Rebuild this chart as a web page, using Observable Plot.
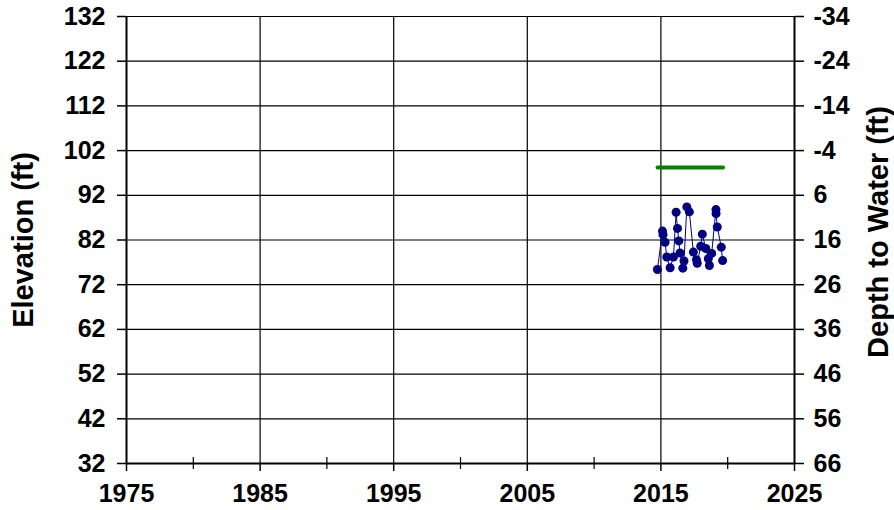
<!DOCTYPE html>
<html>
<head>
<meta charset="utf-8">
<script src="https://cdn.jsdelivr.net/npm/d3@7"></script>
<script src="https://cdn.jsdelivr.net/npm/@observablehq/plot@0.6"></script>
<style>
  html, body { margin: 0; padding: 0; background: white; }
  #chart { width: 894px; height: 510px; }
</style>
</head>
<body>
<div id="chart"></div>
<script>
// ---- data ----
const levelYears = [2014.74, 2015.12, 2015.16, 2015.31, 2015.44, 2015.69, 2015.94, 2016.14, 2016.24, 2016.34,
  2016.43, 2016.64, 2016.73, 2016.94, 2017.13, 2017.43, 2017.66, 2017.72, 2017.98, 2018.10,
  2018.36, 2018.55, 2018.63, 2018.80, 2019.12, 2019.13, 2019.22, 2019.52, 2019.62];
const levelElev = [75.4, 84.0, 83.2, 81.5, 78.2, 75.8, 78.2, 88.2, 84.6, 81.8,
  79.1, 75.7, 77.3, 89.4, 88.3, 79.3, 77.6, 76.8, 80.6, 83.3,
  80.1, 77.8, 76.3, 79.0, 88.8, 87.9, 84.9, 80.4, 77.4];
const groundYears = [2014.75, 2019.65];
const groundElev = [98.2, 98.2];
const groundSurface = 98;          // depth = groundSurface - elevation
const yDomain = [32, 132];
const xDomain = [1975, 2025];
const yTicks = [32, 42, 52, 62, 72, 82, 92, 102, 112, 122, 132];
const xTicks = [1975, 1985, 1995, 2005, 2015, 2025];
const xMinorTicks = [1980, 1990, 2000, 2010, 2020];
const xGrid = [1985, 1995, 2005, 2015];
const leftTitle = "Elevation (ft)";
const rightTitle = "Depth to Water (ft)";

const levels = levelYears.map((x, i) => ({x, y: levelElev[i]}));
const ground = groundYears.map((x, i) => ({x, y: groundElev[i]}));

const fontBold = {fontSize: 25, fontWeight: "bold"};

const chart = Plot.plot({
  width: 894,
  height: 510,
  marginLeft: 126,
  marginRight: 100,
  marginTop: 16,
  marginBottom: 47,
  style: {fontFamily: "'Liberation Sans', Arial, sans-serif", color: "black", background: "white", overflow: "visible"},
  x: {domain: xDomain, type: "linear"},
  y: {domain: yDomain},
  marks: [
    Plot.ruleY(yTicks, {stroke: "black", strokeWidth: 1.2}),
    Plot.ruleX(xGrid, {stroke: "black", strokeWidth: 1.2}),
    Plot.ruleX(xDomain, {stroke: "black", strokeWidth: 2}),
    Plot.ruleY([yDomain[0]], {stroke: "black", strokeWidth: 2}),
    Plot.ruleX(xMinorTicks, {y1: () => yDomain[0], y2: () => yDomain[0], insetTop: -6, insetBottom: -6, stroke: "black", strokeWidth: 1.2}),
    Plot.axisY({anchor: "left", ticks: yTicks, tickSize: 9, tickPadding: 12, label: null, strokeWidth: 1.5, ...fontBold}),
    Plot.axisY({anchor: "right", ticks: yTicks, tickSize: 9, tickPadding: 10, label: null, strokeWidth: 1.5,
      tickFormat: d => String(groundSurface - d), ...fontBold}),
    Plot.axisX({anchor: "bottom", ticks: xTicks, tickSize: 8, tickPadding: 13, label: null, strokeWidth: 1.5,
      tickFormat: d => String(d), ...fontBold}),
    Plot.text([leftTitle], {frameAnchor: "left", textAnchor: "middle", dx: -103, rotate: -90, fontSize: 29, fontWeight: "bold"}),
    Plot.text([rightTitle], {frameAnchor: "right", textAnchor: "middle", dx: 84, dy: -8, rotate: -90, fontSize: 29, fontWeight: "bold"}),
    Plot.line(ground, {x: "x", y: "y", stroke: "#008000", strokeWidth: 4, strokeLinecap: "round"}),
    Plot.line(levels, {x: "x", y: "y", stroke: "#000080", strokeWidth: 1}),
    Plot.dot(levels, {x: "x", y: "y", r: 4.5, fill: "#000080", stroke: "none"})
  ]
});
document.getElementById("chart").appendChild(chart);
</script>
</body>
</html>
